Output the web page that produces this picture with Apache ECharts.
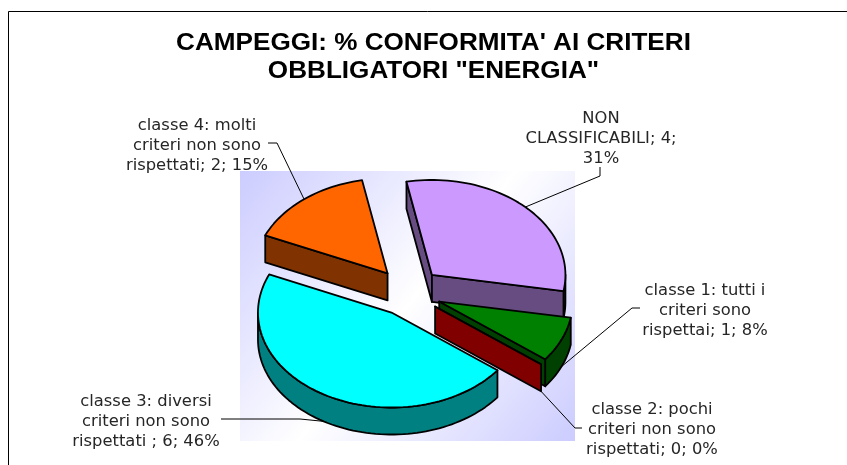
<!DOCTYPE html>
<html>
<head>
<meta charset="utf-8">
<style>html,body{margin:0;padding:0;background:#fff}#c{width:847px;height:465px}</style>
<script src="https://cdn.jsdelivr.net/npm/echarts@6/dist/echarts.min.js"></script>
</head>
<body>
<div id="c"></div>
<script>
const titleText = "CAMPEGGI: % CONFORMITA' AI CRITERI\nOBBLIGATORI \"ENERGIA\"";
const categories = ['NON CLASSIFICABILI', 'classe 1', 'classe 2', 'classe 3', 'classe 4'];
const values = [4, 1, 0, 6, 2];
const labels = [
  'NON\nCLASSIFICABILI; 4;\n31%',
  'classe 1: tutti i\ncriteri sono\nrispettai; 1; 8%',
  'classe 2: pochi\ncriteri non sono\nrispettati; 0; 0%',
  'classe 3: diversi\ncriteri non sono\nrispettati ; 6; 46%',
  'classe 4: molti\ncriteri non sono\nrispettati; 2; 15%'
];
const topColors = ['#CC99FF', '#008000', '#800000', '#00FFFF', '#FF6600'];
const wallColors = ['#664C80', '#004000', '#800000', '#008080', '#803300'];

// layout
const CX = 408.5, CY = 292, RX = 133.5, RY = 95, DEPTH = 27, EXPLODE = 33.5, START = -11;
const labelPos = [[601, 139], [705, 311], [652, 430], [146, 422], [197, 146]];
const leaderHead = [
  [[600, 167], [600, 176]],
  [[640, 308], [632, 308]],
  [[582, 428], [575, 428]],
  [[221, 419], [300, 419]],
  [[268, 143], [277, 143]]
];
const leaderOnWall = [false, true, true, true, false];

const total = values.reduce((a, b) => a + b, 0);
const rad = d => d * Math.PI / 180;
const ell = (ox, oy, deg) => [ox + RX * Math.sin(rad(deg)), oy - RY * Math.cos(rad(deg))];

function renderSlice(params, api) {
  const i = params.dataIndex;
  const v = api.value(0);
  let before = 0;
  for (let k = 0; k < i; k++) before += values[k];
  const a0 = START + before / total * 360;
  const a1 = a0 + v / total * 360;
  const mid = (a0 + a1) / 2;
  const ox = CX + EXPLODE * Math.sin(rad(mid));
  const oy = CY - EXPLODE * (RY / RX) * Math.cos(rad(mid));
  const apex = [ox, oy];

  const arc = [];
  const steps = Math.max(1, Math.ceil((a1 - a0) / 2));
  for (let s = 0; s <= steps; s++) arc.push(ell(ox, oy, a0 + (a1 - a0) * s / steps));

  const line = { stroke: '#000', lineWidth: 1.8, lineJoin: 'round' };
  const children = [];

  const rim = ell(ox, oy, mid);
  const tip = [rim[0], rim[1] + (leaderOnWall[i] ? DEPTH : 0)];
  children.push({
    type: 'polyline',
    shape: { points: leaderHead[i].concat([tip]) },
    style: { fill: null, stroke: '#000', lineWidth: 1 }
  });

  // walls: the chains of top-face edges whose outward side faces the viewer
  const chains = [];
  if (arc[0][0] < apex[0]) chains.push([apex, arc[0]]);
  let run = null;
  for (let e = 0; e + 1 < arc.length; e++) {
    if (arc[e + 1][0] < arc[e][0] - 1e-6) {
      if (!run) { run = [arc[e]]; chains.push(run); }
      run.push(arc[e + 1]);
    } else run = null;
  }
  if (apex[0] < arc[arc.length - 1][0]) chains.push([arc[arc.length - 1], apex]);
  chains.forEach(ch => {
    const lower = ch.map(p => [p[0], p[1] + DEPTH]).reverse();
    children.push({
      type: 'polygon',
      shape: { points: ch.concat(lower) },
      style: Object.assign({ fill: wallColors[i] }, line)
    });
  });

  children.push({
    type: 'polygon',
    shape: { points: [apex].concat(arc) },
    style: Object.assign({ fill: topColors[i] }, line)
  });
  children.push({
    type: 'text',
    x: labelPos[i][0], y: labelPos[i][1], scaleX: 1.09,
    style: {
      text: labels[i], align: 'center', verticalAlign: 'middle',
      font: '15px "DejaVu Sans"', lineHeight: 20, fill: '#262626'
    }
  });
  return { type: 'group', children };
}

const chart = echarts.init(document.getElementById('c'), null, { renderer: 'canvas' });
chart.setOption({
  animation: false,
  backgroundColor: '#fff',
  graphic: [
    {
      type: 'rect', z: -2, silent: true,
      shape: { x: 240, y: 171, width: 335, height: 270 },
      style: {
        fill: new echarts.graphic.LinearGradient(0, 0, 1, 1, [
          { offset: 0, color: '#CCCCFF' },
          { offset: 0.5, color: '#FFFFFF' },
          { offset: 1, color: '#CCCCFF' }
        ])
      }
    },
    {
      type: 'polyline', z: -1, silent: true,
      shape: { points: [[8.5, 465], [8.5, 11.5], [847, 11.5]] },
      style: { fill: null, stroke: '#000', lineWidth: 1 }
    },
    {
      type: 'text', silent: true, x: 433.5, y: 58, scaleX: 1.135,
      style: {
        text: titleText, align: 'center', verticalAlign: 'middle',
        font: 'bold 23px "Liberation Sans"', lineHeight: 28, fill: '#000'
      }
    }
  ],
  series: [{
    type: 'custom',
    coordinateSystem: 'none',
    silent: true,
    renderItem: renderSlice,
    data: values.map((v, i) => ({ name: categories[i], value: [v] }))
  }]
});
</script>
</body>
</html>
